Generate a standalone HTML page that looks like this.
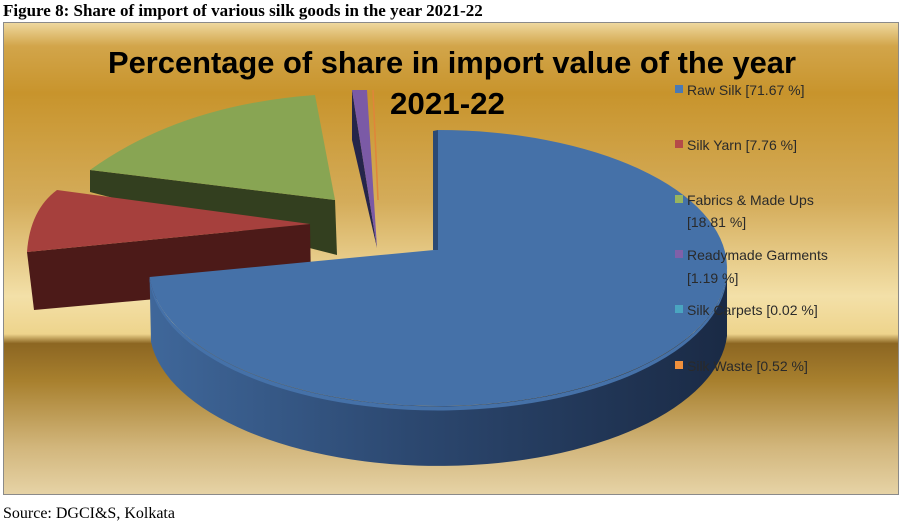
<!DOCTYPE html>
<html><head><meta charset="utf-8"><style>
html,body{margin:0;padding:0;background:#fff;}
svg{display:block;}
</style></head><body>
<svg width="903" height="526" viewBox="0 0 903 526" xmlns="http://www.w3.org/2000/svg">
<defs>
<linearGradient id="bg" x1="0" y1="0" x2="0" y2="1">
<stop offset="0" stop-color="#efd9a0"/>
<stop offset="0.05" stop-color="#d2a54a"/>
<stop offset="0.15" stop-color="#c8942c"/>
<stop offset="0.38" stop-color="#d4ac5a"/>
<stop offset="0.58" stop-color="#f3e0a8"/>
<stop offset="0.66" stop-color="#eed48c"/>
<stop offset="0.68" stop-color="#8c6622"/>
<stop offset="0.76" stop-color="#a8802e"/>
<stop offset="0.9" stop-color="#d2b67c"/>
<stop offset="1" stop-color="#e6d3a6"/>
</linearGradient>
<linearGradient id="bside" x1="0" y1="0" x2="1" y2="0">
<stop offset="0" stop-color="#3f679a"/>
<stop offset="0.45" stop-color="#2c4870"/>
<stop offset="1" stop-color="#1a2a45"/>
</linearGradient>
</defs>
<rect x="0" y="0" width="903" height="526" fill="#fff"/>
<rect x="3.5" y="22.5" width="895" height="472" fill="url(#bg)" stroke="#8a8a8a"/>
<text x="3" y="16" font-family="Liberation Serif, serif" font-weight="bold" font-size="17" fill="#000">Figure 8: Share of import of various silk goods in the year 2021-22</text>
<text x="3" y="518" font-family="Liberation Serif, serif" font-size="16" fill="#000">Source: DGCI&amp;S, Kolkata</text>
<text x="108" y="73" font-family="Liberation Sans, sans-serif" font-weight="bold" font-size="31" textLength="688" lengthAdjust="spacingAndGlyphs" fill="#000">Percentage of share in import value of the year</text>
<text x="390" y="114" font-family="Liberation Sans, sans-serif" font-weight="bold" font-size="31" textLength="115" lengthAdjust="spacingAndGlyphs" fill="#000">2021-22</text>
<!-- green -->
<polygon points="90,170 335,200 337,255 90,192" fill="#333f1f"/>
<path d="M90,170 Q180,105 315,95 L335,200 Z" fill="#88a553"/>
<!-- red -->
<polygon points="27,252 310,224 311,285 34,310" fill="#4c1a18"/>
<path d="M27,252 Q30,210 57,190 L310,224 Z" fill="#a6403d"/>
<!-- purple -->
<polygon points="352,90 352,140 377,248" fill="#25254a"/>
<polygon points="352,90 367,90 377,248" fill="#7b5aa6"/>
<line x1="373" y1="90" x2="378" y2="200" stroke="#e0853a" stroke-width="1.5"/>
<!-- blue -->
<path d="M727,268 A289,138 0 0 1 149.6,277 L151,342 A289,138 0 0 0 727,336 Z" fill="url(#bside)"/>
<path d="M727,266 A289,138 0 0 1 149.6,277 L149.6,281 A289,138 0 0 0 727,270 Z" fill="#4571a8"/>
<path d="M434,250 L438,130 A289,138 0 1 1 149.6,277 Z" fill="#4571a8"/>
<path d="M433,250 L433,131 L438,130 L438,250 Z" fill="#2c4a74"/>
<!-- legend -->
<g font-family="Liberation Sans, sans-serif" font-size="14" fill="#2a2a2a">
<rect x="675" y="85" width="8" height="8" fill="#4a7ab5"/><text x="687" y="95">Raw Silk [71.67 %]</text>
<rect x="675" y="140" width="8" height="8" fill="#b54a48"/><text x="687" y="150">Silk Yarn [7.76 %]</text>
<rect x="675" y="195" width="8" height="8" fill="#98b45e"/><text x="687" y="205">Fabrics &amp; Made Ups</text><text x="687" y="227">[18.81 %]</text>
<rect x="675" y="250" width="8" height="8" fill="#8060a8"/><text x="687" y="260">Readymade Garments</text><text x="687" y="283">[1.19 %]</text>
<rect x="675" y="305" width="8" height="8" fill="#4aa5c0"/><text x="687" y="315">Silk Carpets [0.02 %]</text>
<rect x="675" y="361" width="8" height="8" fill="#f0903c"/><text x="687" y="371">Silk Waste [0.52 %]</text>
</g>
</svg>
</body></html>
